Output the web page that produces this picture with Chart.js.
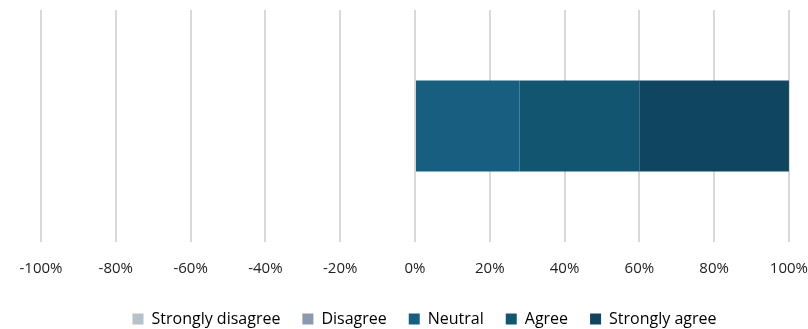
<!DOCTYPE html>
<html>
<head>
<meta charset="utf-8">
<script src="https://cdn.jsdelivr.net/npm/chart.js@4/dist/chart.umd.min.js"></script>
<style>
  html, body { margin: 0; padding: 0; background: #ffffff; }
  #wrap { width: 808px; height: 329px; position: relative; }
</style>
</head>
<body>
<div id="wrap"><canvas id="chart"></canvas></div>
<script>
// Likert response shares (%) for a single question
const categories = [''];
const seriesNames = ['Strongly disagree', 'Disagree', 'Neutral', 'Agree', 'Strongly agree'];
const stronglyDisagree = [0];
const disagree = [0];
const neutral = [28];
const agree = [32];
const stronglyAgree = [40];
const xTicks = [-100, -80, -60, -40, -20, 0, 20, 40, 60, 80, 100];

const colors = ['#b7c1ca', '#8a9aac', '#175e80', '#125571', '#0f4560'];
const values = [stronglyDisagree, disagree, neutral, agree, stronglyAgree];

const datasets = seriesNames.map((name, i) => ({
  label: name,
  data: values[i],
  // empty segments are left undrawn
  backgroundColor: (ctx) => (ctx.raw === 0 ? 'rgba(0,0,0,0)' : colors[i]),
  borderWidth: 0,
  categoryPercentage: 1,
  barPercentage: 0.393
}));

const FONT = '"Open Sans", Lato, sans-serif';

new Chart(document.getElementById('chart'), {
  type: 'bar',
  data: { labels: categories, datasets },
  options: {
    indexAxis: 'y',
    responsive: true,
    maintainAspectRatio: false,
    animation: false,
    layout: { padding: { left: 41, right: 0, top: 10, bottom: -8 } },
    scales: {
      x: {
        stacked: true,
        min: xTicks[0],
        max: xTicks[xTicks.length - 1],
        afterBuildTicks: (axis) => { axis.ticks = xTicks.map(v => ({ value: v })); },
        afterFit: (axis) => { axis.height += 11; },
        grid: { color: '#d9d9d9', lineWidth: 2, drawTicks: true, tickLength: 18, tickColor: 'rgba(0,0,0,0)' },
        border: { display: false },
        ticks: {
          padding: 0,
          color: '#222222',
          font: { family: FONT, size: 15 },
          callback: (v) => v + '%'
        }
      },
      y: {
        stacked: true,
        display: false
      }
    },
    plugins: {
      legend: {
        position: 'bottom',
        labels: {
          boxWidth: 11,
          boxHeight: 11,
          padding: 22,
          color: '#333333',
          font: { family: FONT, size: 16 },
          generateLabels: (chart) => chart.data.datasets.map((ds, i) => ({
            text: ds.label,
            fillStyle: colors[i],
            strokeStyle: colors[i],
            lineWidth: 0,
            hidden: false,
            datasetIndex: i
          }))
        }
      },
      tooltip: { enabled: false }
    }
  }
});
</script>
</body>
</html>
